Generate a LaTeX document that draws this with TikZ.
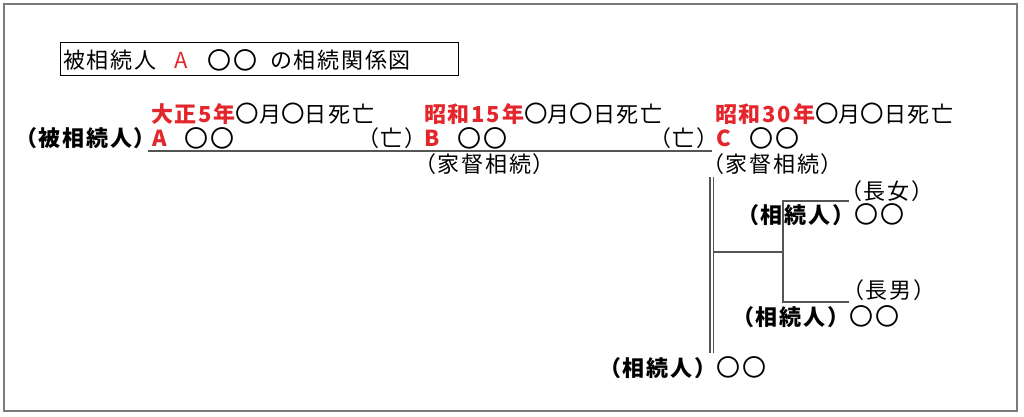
\documentclass[tikz,border=0pt]{standalone}
\usepackage{fontspec}
\setmainfont{Noto Sans CJK JP}[LetterSpace=8]
\definecolor{jred}{HTML}{E3262B}
\definecolor{frame}{HTML}{7A7A7A}
\definecolor{lin}{HTML}{555555}
\newcommand{\maru}{{\fontsize{24}{22}\selectfont 〇〇}}
\newcommand{\onemaru}{{\fontsize{23.5}{22}\selectfont 〇}}
\begin{document}
\begin{tikzpicture}[x=1pt,y=-1pt,
  txt/.style={inner sep=0pt, anchor=west, font=\fontsize{22}{22}\selectfont},
  red/.style={txt, text=jred, font=\fontsize{22}{22}\selectfont\bfseries},
  tree/.style={draw=lin, line width=1.1pt}]
\useasboundingbox (0,0) rectangle (1024,416);
\draw[frame, line width=2pt] (4,4) rectangle (1017,411);
% title
\draw[black, line width=0.9pt] (60,42) rectangle (458,75);
\node[txt] (t1) at (63,60) {被相続人};
\node[txt, text=jred] (t2) at (174,60) {A};
\node[txt] (t3) at (207,60) {\maru};
\node[txt] (t4) at (270,60) {の相続関係図};
% dates
\node[txt] (d1) at (151,114) {{\color{jred}\bfseries 大正5年}\onemaru 月\onemaru 日死亡};
\node[txt] (d2) at (424,114) {{\color{jred}\bfseries 昭和15年}\onemaru 月\onemaru 日死亡};
\node[txt] (d3) at (715,114) {{\color{jred}\bfseries 昭和30年}\onemaru 月\onemaru 日死亡};
% names
\node[txt, anchor=east, font=\fontsize{22}{22}\selectfont\bfseries] (hl) at (156,138) {（被相続人）};
\node[red] (na) at (152,138) {A};
\node[txt] (nao) at (184,138) {\maru};
\node[txt] (db) at (357,138) {（亡）};
\node[red] (nb) at (424,138) {B};
\node[txt] (nbo) at (457,138) {\maru};
\node[txt] (dc) at (649,138) {（亡）};
\node[red] (nc) at (716,138) {C};
\node[txt] (nco) at (749,138) {\maru};
\node[txt] (k1) at (414,164) {（家督相続）};
\node[txt] (k2) at (702,164) {（家督相続）};
% heirs
\node[txt] (l1) at (840,191) {（長女）};
\node[txt] (h1) at (737,215) {{\bfseries （相続人）}\maru};
\node[txt] (l2) at (842,290) {（長男）};
\node[txt] (h2) at (732,317) {{\bfseries （相続人）}\maru};
\node[txt] (h3) at (599,368) {{\bfseries （相続人）}\maru};
% lines
\coordinate (ls) at (148,151);
\coordinate (le) at (712,151);
\draw[tree] (ls) -- (le);
\coordinate (va) at (710,177);
\coordinate (vb) at (710,353);
\coordinate (vc) at (713.5,177);
\coordinate (vd) at (713.5,353);
\draw[tree] (va) -- (vb);
\draw[tree] (vc) -- (vd);
\coordinate (bj) at (713.5,252);
\coordinate (bk) at (783,252);
\coordinate (bt) at (783,201);
\coordinate (bb) at (783,302);
\coordinate (et) at (849,201);
\coordinate (eb) at (849,302);
\draw[tree] (bj) -- (bk);
\draw[tree] (et) -- (bt) -- (bb) -- (eb);
\end{tikzpicture}
\end{document}
